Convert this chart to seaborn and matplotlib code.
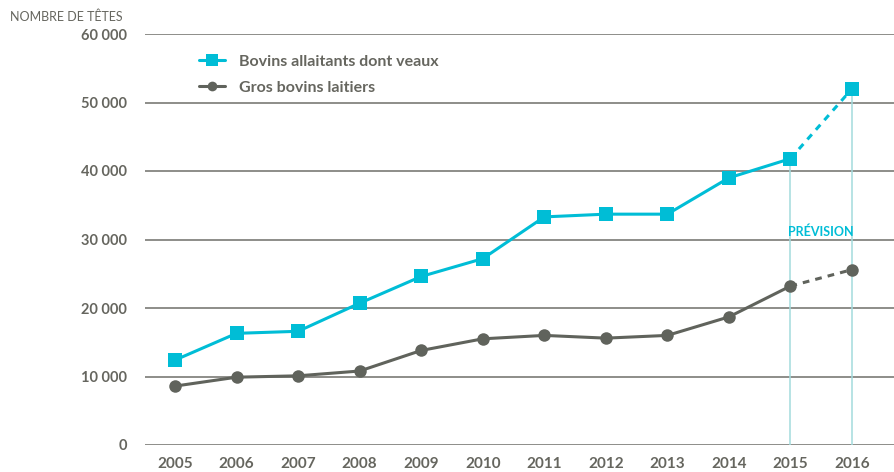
import matplotlib
matplotlib.use("Agg")
import matplotlib.pyplot as plt
import seaborn as sns
import pandas as pd
from matplotlib.lines import Line2D

years = [2005, 2006, 2007, 2008, 2009, 2010, 2011, 2012, 2013, 2014, 2015, 2016]
allaitants = [12400, 16300, 16600, 20700, 24600, 27200, 33300, 33700, 33700, 39000, 41800, 52000]
laitiers = [8600, 9900, 10100, 10800, 13800, 15500, 16000, 15600, 16000, 18700, 23200, 25600]
y_ticks = [0, 10000, 20000, 30000, 40000, 50000, 60000]
y_tick_labels = ["0", "10 000", "20 000", "30 000", "40 000", "50 000", "60 000"]
forecast_years = [2015, 2016]

BLUE = "#00BDD6"
GRAY = "#60635C"
TEXT = "#66665F"
VLINE = "#A3DBDD"

sns.set_theme(style="white")
plt.rcParams["font.family"] = ["Lato", "DejaVu Sans"]

df = pd.DataFrame({"annee": years, "allaitants": allaitants, "laitiers": laitiers})
hist = df[df["annee"] <= 2015]
prev = df[df["annee"] >= 2015]

fig = plt.figure(figsize=(8.94, 4.72), dpi=100)
ax = fig.add_axes([145 / 894, 1 - 445 / 472, 1 - 145 / 894, (445 - 34) / 472])

for t in y_ticks:
    ax.axhline(t, color="#7A7A76", lw=1.2, zorder=0)

for fy in forecast_years:
    v = df.loc[df["annee"] == fy, "allaitants"].iloc[0]
    ax.plot([fy, fy], [0, v], color=VLINE, lw=1.1, zorder=1)

sns.lineplot(data=hist, x="annee", y="allaitants", ax=ax, color=BLUE, lw=2.2,
             marker="s", markersize=10, markeredgewidth=0, zorder=3)
sns.lineplot(data=prev, x="annee", y="allaitants", ax=ax, color=BLUE, lw=2.2,
             linestyle=(0, (2.2, 2)), zorder=2)
ax.plot([2016], [allaitants[-1]], marker="s", markersize=10, color=BLUE, mew=0, zorder=3)

sns.lineplot(data=hist, x="annee", y="laitiers", ax=ax, color=GRAY, lw=2.2,
             marker="o", markersize=9, markeredgewidth=0, zorder=3)
sns.lineplot(data=prev, x="annee", y="laitiers", ax=ax, color=GRAY, lw=2.2,
             linestyle=(0, (2.2, 2)), zorder=2)
ax.plot([2016], [laitiers[-1]], marker="o", markersize=9, color=GRAY, mew=0, zorder=3)

ax.set_xlim(2005 - 30 / 61.5, 2016 + 42 / 61.5)
ax.set_ylim(0, 60000)
ax.set_yticks(y_ticks)
ax.set_yticklabels(y_tick_labels, fontsize=10.5, fontweight="bold", color=TEXT)
ax.set_xticks(years)
ax.set_xticklabels([str(y) for y in years], fontsize=11, fontweight="bold", color=TEXT)
ax.tick_params(axis="y", length=0, pad=13)
ax.tick_params(axis="x", length=0, pad=9)
ax.set_xlabel("")
ax.set_ylabel("")
for s in ax.spines.values():
    s.set_visible(False)

fig.text(10 / 894, 1 - 17 / 472, "NOMBRE DE TÊTES", fontsize=9, color=TEXT, va="center", ha="left")
ax.text(2015.5, 31200, "PRÉVISION", color=BLUE, fontsize=9, fontweight="bold", ha="center", va="center")

handles = [
    Line2D([0], [0], color=BLUE, lw=2.2, marker="s", markersize=8, mew=0),
    Line2D([0], [0], color=GRAY, lw=2.2, marker="o", markersize=7, mew=0),
]
leg = ax.legend(handles, ["Bovins allaitants dont veaux", "Gros bovins laitiers"],
                loc="upper left", bbox_to_anchor=(40 / 749, 0.985), frameon=False,
                handlelength=1.6, handletextpad=0.9, labelspacing=0.75, fontsize=11.5)
for t in leg.get_texts():
    t.set_color(TEXT)
    t.set_fontweight("bold")

fig.savefig("out.png", dpi=100)
